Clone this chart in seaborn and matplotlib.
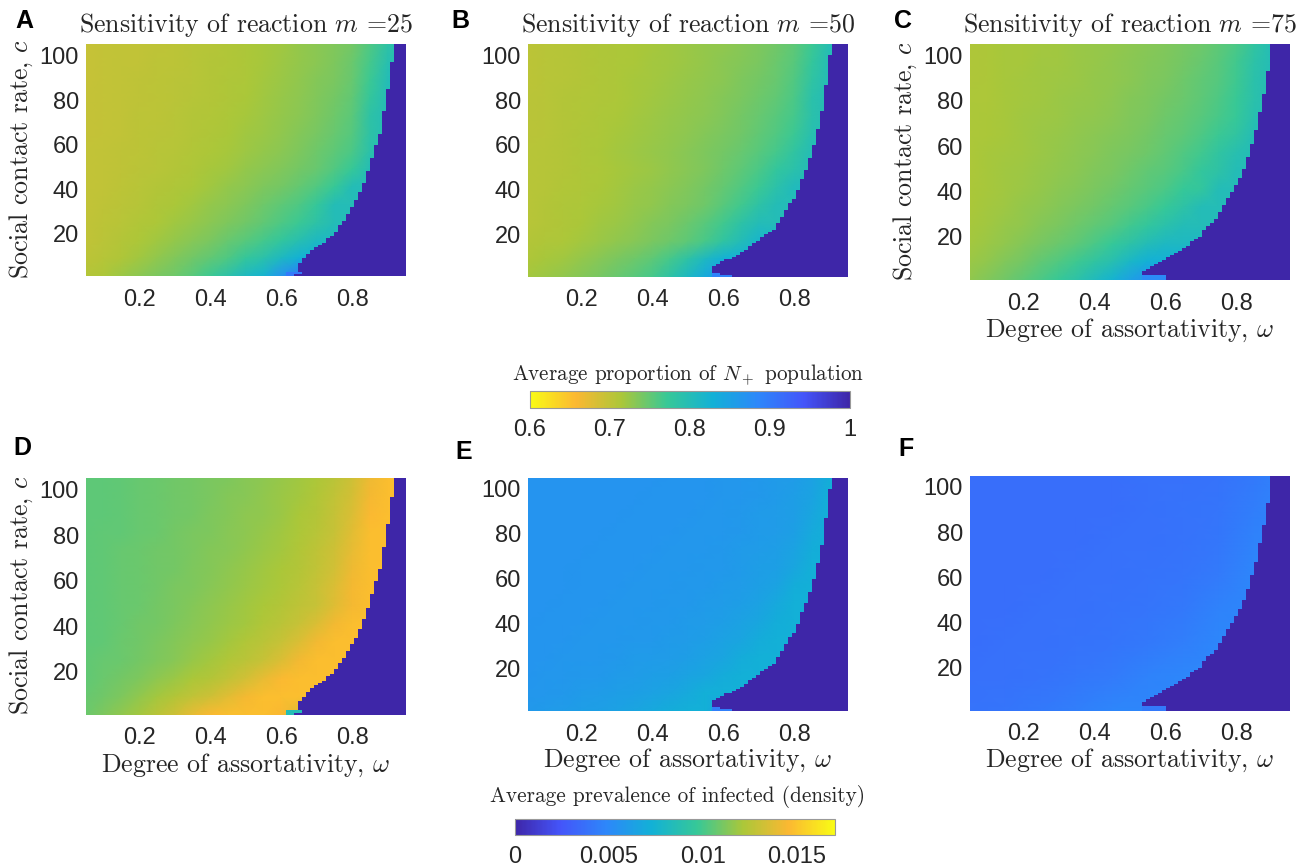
import numpy as np
import pandas as pd
import matplotlib
matplotlib.use("Agg")
import matplotlib.pyplot as plt
from matplotlib.colors import LinearSegmentedColormap
import seaborn as sns

W, H = 1311, 867

# values, rows are c = 105, 97, ... 1, columns are omega = .05, .10, ... .95
prop_a = [
    [.695, .697, .699, .700, .701, .703, .705, .707, .710, .713, .716, .720, .725, .730, .735, .742, .760, .785, .800],
    [.695, .697, .699, .700, .702, .703, .705, .708, .710, .713, .717, .721, .726, .731, .737, .746, .765, .795, .800],
    [.695, .697, .699, .701, .702, .704, .706, .708, .711, .714, .718, .722, .727, .733, .739, .748, .770, .800, .800],
    [.696, .698, .700, .701, .703, .704, .707, .709, .712, .715, .719, .724, .729, .735, .741, .751, .775, .800, .800],
    [.696, .698, .700, .702, .703, .705, .708, .710, .713, .717, .721, .726, .731, .737, .744, .754, .785, .800, .800],
    [.696, .698, .700, .702, .704, .706, .709, .711, .715, .719, .723, .728, .733, .740, .748, .757, .785, .800, .800],
    [.697, .699, .701, .703, .705, .707, .710, .713, .717, .721, .726, .731, .737, .744, .752, .762, .790, .800, .800],
    [.697, .699, .701, .704, .706, .709, .712, .716, .720, .725, .730, .735, .741, .748, .758, .772, .800, .800, .800],
    [.698, .700, .703, .705, .708, .711, .715, .720, .725, .730, .736, .742, .749, .758, .772, .800, .800, .800, .800],
    [.698, .701, .704, .707, .711, .715, .720, .725, .731, .737, .744, .752, .760, .774, .800, .800, .800, .800, .800],
    [.699, .702, .706, .710, .714, .719, .724, .730, .736, .743, .751, .760, .770, .785, .800, .800, .800, .800, .800],
    [.700, .704, .708, .713, .719, .725, .732, .739, .747, .755, .765, .778, .795, .810, .810, .810, .810, .810, .810],
    [.702, .707, .712, .720, .727, .735, .743, .750, .760, .775, .790, .810, .830, .830, .830, .830, .830, .830, .830],
    [.708, .714, .722, .730, .738, .745, .755, .770, .788, .810, .825, .870, .900, .900, .900, .900, .900, .900, .900],
]
prop_b = [
    [.703, .705, .707, .709, .711, .713, .715, .717, .720, .722, .725, .728, .732, .737, .743, .752, .770, .798, .800],
    [.703, .705, .707, .709, .711, .713, .715, .718, .720, .723, .726, .730, .734, .739, .746, .756, .776, .800, .800],
    [.703, .705, .707, .709, .711, .714, .716, .718, .721, .724, .727, .731, .736, .741, .748, .758, .782, .800, .800],
    [.704, .706, .708, .710, .712, .714, .717, .719, .722, .725, .729, .733, .738, .744, .751, .762, .790, .800, .800],
    [.704, .706, .708, .710, .713, .715, .718, .721, .724, .727, .731, .735, .741, .747, .755, .765, .790, .800, .800],
    [.704, .706, .709, .711, .714, .716, .719, .722, .725, .729, .733, .738, .743, .750, .759, .770, .795, .800, .800],
    [.705, .707, .709, .712, .715, .718, .721, .724, .728, .732, .737, .742, .748, .755, .765, .780, .800, .800, .800],
    [.705, .707, .709, .711, .714, .717, .720, .723, .727, .732, .737, .744, .752, .762, .778, .790, .800, .800, .800],
    [.705, .707, .710, .712, .715, .718, .722, .725, .730, .735, .741, .749, .758, .770, .788, .805, .805, .805, .805],
    [.705, .708, .711, .713, .717, .720, .724, .728, .733, .738, .745, .755, .766, .785, .800, .800, .800, .800, .800],
    [.706, .709, .712, .715, .719, .723, .728, .733, .739, .746, .755, .767, .785, .800, .800, .800, .800, .800, .800],
    [.708, .711, .714, .718, .722, .727, .732, .738, .745, .753, .764, .780, .800, .820, .820, .820, .820, .820, .820],
    [.712, .716, .720, .725, .732, .738, .745, .752, .765, .785, .810, .830, .830, .830, .830, .830, .830, .830, .830],
    [.718, .722, .728, .733, .740, .747, .755, .765, .785, .812, .840, .870, .870, .870, .870, .870, .870, .870, .870],
]
prop_c = [
    [.712, .714, .716, .717, .718, .720, .722, .724, .726, .729, .732, .735, .740, .745, .752, .762, .780, .800, .800],
    [.712, .714, .716, .717, .719, .720, .722, .724, .727, .730, .733, .737, .742, .748, .755, .766, .787, .800, .800],
    [.712, .714, .716, .718, .719, .721, .723, .725, .728, .731, .735, .739, .744, .750, .757, .768, .790, .800, .800],
    [.713, .714, .716, .718, .720, .722, .724, .726, .729, .733, .736, .741, .746, .752, .760, .771, .790, .800, .800],
    [.713, .715, .717, .719, .721, .723, .725, .728, .731, .735, .739, .744, .749, .756, .764, .772, .795, .800, .800],
    [.713, .715, .717, .720, .722, .724, .727, .730, .733, .737, .742, .747, .753, .760, .770, .780, .800, .800, .800],
    [.714, .716, .718, .720, .723, .726, .729, .732, .736, .740, .745, .751, .758, .767, .780, .795, .800, .800, .800],
    [.714, .716, .719, .721, .724, .727, .731, .735, .739, .744, .750, .756, .764, .775, .785, .800, .800, .800, .800],
    [.715, .717, .720, .723, .726, .730, .734, .738, .743, .749, .755, .762, .772, .778, .800, .800, .800, .800, .800],
    [.715, .718, .721, .725, .729, .733, .738, .743, .749, .756, .763, .772, .785, .800, .800, .800, .800, .800, .800],
    [.716, .720, .724, .728, .733, .738, .744, .750, .757, .766, .777, .790, .800, .800, .800, .800, .800, .800, .800],
    [.718, .723, .728, .734, .740, .746, .753, .762, .772, .785, .800, .810, .810, .810, .810, .810, .810, .810, .810],
    [.722, .728, .735, .742, .750, .758, .768, .780, .795, .815, .830, .830, .830, .830, .830, .830, .830, .830, .830],
    [.728, .735, .743, .752, .762, .773, .787, .805, .825, .850, .870, .870, .870, .870, .870, .870, .870, .870, .870],
]
prev_d = [
    [.0105, .0105, .0106, .0107, .0108, .0109, .0110, .0111, .0112, .0114, .0115, .0117, .0119, .0122, .0126, .0132, .0142, .0148, .0148],
    [.0105, .0105, .0106, .0107, .0108, .0109, .0110, .0111, .0113, .0114, .0116, .0118, .0120, .0123, .0128, .0134, .0144, .0148, .0148],
    [.0105, .0105, .0106, .0107, .0108, .0109, .0110, .0112, .0113, .0115, .0116, .0118, .0121, .0124, .0129, .0136, .0146, .0148, .0148],
    [.0105, .0106, .0106, .0107, .0108, .0110, .0111, .0112, .0114, .0115, .0117, .0119, .0122, .0125, .0130, .0138, .0148, .0148, .0148],
    [.0105, .0106, .0107, .0108, .0109, .0110, .0111, .0113, .0114, .0116, .0118, .0120, .0123, .0127, .0132, .0140, .0148, .0148, .0148],
    [.0105, .0106, .0107, .0108, .0109, .0110, .0112, .0113, .0115, .0117, .0119, .0121, .0124, .0128, .0133, .0142, .0148, .0148, .0148],
    [.0105, .0106, .0107, .0108, .0109, .0111, .0112, .0114, .0116, .0118, .0120, .0122, .0125, .0130, .0136, .0144, .0148, .0148, .0148],
    [.0105, .0106, .0107, .0108, .0110, .0111, .0113, .0115, .0117, .0119, .0121, .0124, .0127, .0130, .0137, .0144, .0148, .0148, .0148],
    [.0105, .0106, .0107, .0109, .0110, .0112, .0114, .0116, .0118, .0120, .0123, .0126, .0130, .0136, .0143, .0148, .0148, .0148, .0148],
    [.0105, .0106, .0108, .0109, .0111, .0113, .0115, .0117, .0120, .0123, .0126, .0130, .0136, .0143, .0148, .0148, .0148, .0148, .0148],
    [.0106, .0107, .0108, .0110, .0112, .0114, .0117, .0120, .0123, .0126, .0130, .0136, .0143, .0148, .0148, .0148, .0148, .0148, .0148],
    [.0106, .0108, .0110, .0112, .0115, .0118, .0121, .0124, .0128, .0133, .0140, .0146, .0148, .0148, .0148, .0148, .0148, .0148, .0148],
    [.0107, .0109, .0112, .0116, .0120, .0124, .0128, .0132, .0138, .0144, .0148, .0148, .0148, .0148, .0148, .0148, .0148, .0148, .0148],
    [.0108, .0112, .0116, .0120, .0126, .0132, .0140, .0146, .0148, .0148, .0148, .0145, .0135, .0135, .0135, .0135, .0135, .0135, .0135],
]
prev_e = [
    [.0056, .0056, .0056, .0056, .0056, .0056, .0056, .0056, .0057, .0057, .0057, .0058, .0058, .0059, .0060, .0061, .0064, .0071, .0072],
    [.0056, .0056, .0056, .0056, .0056, .0056, .0056, .0057, .0057, .0057, .0057, .0058, .0058, .0059, .0060, .0062, .0065, .0072, .0072],
    [.0056, .0056, .0056, .0056, .0056, .0056, .0057, .0057, .0057, .0057, .0058, .0058, .0059, .0060, .0061, .0062, .0067, .0072, .0072],
    [.0056, .0056, .0056, .0056, .0056, .0057, .0057, .0057, .0057, .0058, .0058, .0058, .0059, .0060, .0061, .0063, .0069, .0072, .0072],
    [.0056, .0056, .0056, .0056, .0057, .0057, .0057, .0057, .0058, .0058, .0058, .0059, .0060, .0061, .0062, .0065, .0071, .0072, .0072],
    [.0056, .0056, .0056, .0057, .0057, .0057, .0057, .0058, .0058, .0058, .0059, .0059, .0060, .0062, .0063, .0067, .0072, .0072, .0072],
    [.0056, .0056, .0056, .0057, .0057, .0057, .0058, .0058, .0058, .0059, .0059, .0060, .0061, .0063, .0065, .0071, .0072, .0072, .0072],
    [.0056, .0056, .0057, .0057, .0057, .0058, .0058, .0058, .0059, .0059, .0060, .0061, .0062, .0064, .0068, .0072, .0072, .0072, .0072],
    [.0056, .0057, .0057, .0057, .0058, .0058, .0058, .0059, .0059, .0060, .0061, .0062, .0064, .0067, .0071, .0072, .0072, .0072, .0072],
    [.0057, .0057, .0057, .0058, .0058, .0058, .0059, .0059, .0060, .0061, .0062, .0064, .0066, .0070, .0072, .0072, .0072, .0072, .0072],
    [.0057, .0057, .0058, .0058, .0058, .0059, .0060, .0060, .0061, .0062, .0064, .0066, .0070, .0072, .0072, .0072, .0072, .0072, .0072],
    [.0057, .0058, .0058, .0059, .0059, .0060, .0061, .0062, .0063, .0065, .0067, .0070, .0072, .0072, .0072, .0072, .0072, .0072, .0072],
    [.0058, .0058, .0059, .0060, .0061, .0062, .0063, .0064, .0066, .0069, .0072, .0072, .0072, .0072, .0072, .0072, .0072, .0072, .0072],
    [.0059, .0060, .0061, .0062, .0063, .0064, .0066, .0068, .0071, .0072, .0072, .0060, .0060, .0060, .0060, .0060, .0060, .0060, .0060],
]
# panel F is almost flat, rows are c = 105, 90, 75, 60, 46, 31, 16, 1, columns omega = .05, .15, ... .95
prev_f = [
    [.0037, .0037, .0037, .0037, .0037, .0038, .0038, .0039, .0042, .0048],
    [.0037, .0037, .0037, .0037, .0037, .0038, .0039, .0040, .0044, .0049],
    [.0037, .0037, .0037, .0037, .0038, .0038, .0039, .0041, .0047, .0049],
    [.0037, .0037, .0037, .0038, .0038, .0039, .0040, .0043, .0049, .0049],
    [.0037, .0037, .0038, .0038, .0039, .0040, .0042, .0047, .0049, .0049],
    [.0037, .0038, .0038, .0039, .0040, .0042, .0045, .0049, .0049, .0049],
    [.0038, .0038, .0039, .0041, .0043, .0047, .0049, .0049, .0049, .0049],
    [.0039, .0040, .0042, .0045, .0048, .0049, .0049, .0049, .0049, .0049],
]

# staircase of the saturated region: highest c still saturated in each fine column
edge_m25 = [2, 7, 9, 11, 13, 14, 15, 16, 18, 19, 21, 24, 26, 29, 32, 35, 39, 43, 48, 54, 60, 65, 75, 85, 97]
edge_m50 = [6, 6.5, 8, 8.6, 9.2, 10.4, 11, 12, 13.4, 14.5, 15.8, 17.3, 18.8, 19.7, 21, 22, 25, 28, 31, 34, 36, 40,
            45, 49, 54, 60, 67, 75, 87, 100]
edge_m75 = [4.5, 6, 7, 8, 9, 10, 11, 11.5, 13, 14, 15, 16, 18, 19, 20, 23, 24.5, 26, 28, 31, 33.5, 36.5, 39.5, 43,
            46, 50, 55, 60.5, 67, 74.5, 82.6, 93.4]
edge_start = {25: 52, 50: 46, 75: 43}
edges = {25: edge_m25, 50: edge_m50, 75: edge_m75}
# bottom rows where a lighter notch cuts under the staircase: (row from bottom, first col, last col)
gap_rows = {25: [0, 1], 50: [0, 1], 75: [0, 1]}
gap_from = {25: [50, 50], 50: [46, 46], 75: [43, 43]}
gap_to = {25: [51, 53], 50: [50, 47], 75: [48, 48]}

omega_ticks = [0.2, 0.4, 0.6, 0.8]
c_ticks = [20, 40, 60, 80, 100]
prop_ticks = [0.6, 0.7, 0.8, 0.9, 1]
prop_tick_labels = ["0.6", "0.7", "0.8", "0.9", "1"]
prev_ticks = [0, 0.005, 0.01, 0.015]
prev_tick_labels = ["0", "0.005", "0.01", "0.015"]
parula_colors = ["#3e26a8", "#4455fa", "#2d87fa", "#12b1d6", "#37c897", "#abc739", "#fbb832", "#f9fb15"]

sns.set_theme(style="white")
plt.rcParams["font.family"] = ["Liberation Sans", "DejaVu Sans"]
plt.rcParams["mathtext.fontset"] = "cm"
plt.rcParams["axes.unicode_minus"] = False
TXT = "#262626"

parula = LinearSegmentedColormap.from_list("parula", parula_colors)
parula_r = parula.reversed()

fig = plt.figure(figsize=(W / 100, H / 100), dpi=100, facecolor="white")


def box(x0, y0, x1, y1):
    return [x0 / W, 1 - y1 / H, (x1 - x0) / W, (y1 - y0) / H]


def label(x, y, s, **kw):
    kw.setdefault("color", TXT)
    fig.text(x / W, 1 - y / H, s, **kw)


def fine_grid(m, dark_val, gap_val):
    # 104 rows x 80 columns, NaN where the smooth field shows through
    grid = np.full((104, 80), np.nan)
    start = edge_start[m]
    for col in range(start, 80):
        k = col - start
        top = edges[m][k] if k < len(edges[m]) else 200
        for r in range(104):
            if 104.5 - r <= top:
                grid[r, col] = dark_val
    for row, a, b in zip(gap_rows[m], gap_from[m], gap_to[m]):
        grid[103 - row, a : b + 1] = gap_val
    return grid


def panel(pos, table, m, cmap, vmin, vmax, dark_val, gap_val):
    base = fig.add_axes(box(*pos))
    values = np.array(table)
    sns.heatmap(pd.DataFrame(values), ax=base, cmap=cmap, vmin=vmin, vmax=vmax, cbar=False,
                xticklabels=False, yticklabels=False, shading="gouraud")
    base.set_xlim(0, values.shape[1] - 1)
    base.set_ylim(values.shape[0] - 1, 0)
    base.set_xlabel("")
    base.set_ylabel("")

    ax = fig.add_axes(box(*pos), facecolor="none")
    sns.heatmap(pd.DataFrame(fine_grid(m, dark_val, gap_val)), ax=ax, cmap=cmap, vmin=vmin, vmax=vmax, cbar=False,
                xticklabels=False, yticklabels=False)
    ax.set_xlabel("")
    ax.set_ylabel("")
    ax.set_xticks([(w - 0.05) / 0.01125 for w in omega_ticks])
    ax.set_xticklabels([f"{w:.1f}" for w in omega_ticks], rotation=0)
    ax.set_yticks([105 - c for c in c_ticks])
    ax.set_yticklabels([str(c) for c in c_ticks], rotation=0)
    ax.tick_params(axis="x", length=0, pad=9, labelsize=17, labelcolor=TXT)
    ax.tick_params(axis="y", length=0, pad=5, labelsize=17, labelcolor=TXT)


panel((85.7, 44.3, 405.7, 276.3), prop_a, 25, parula_r, 0.6, 1, 1, 0.90)
panel((527.7, 44.3, 847.7, 277), prop_b, 50, parula_r, 0.6, 1, 1, 0.89)
panel((969.7, 44, 1290, 280), prop_c, 75, parula_r, 0.6, 1, 1, 0.88)
panel((85.7, 478.3, 405.7, 715), prev_d, 25, parula, 0, 0.017, 0, 0.0085)
panel((527.7, 477.7, 847.7, 711.3), prev_e, 50, parula, 0, 0.017, 0, 0.0045)
panel((969.7, 475.7, 1290, 710.7), prev_f, 75, parula, 0, 0.017, 0, 0.0042)

# colour bars
for pos, cmap, vmin, vmax, ticks, tick_labels in [
    ((530, 391, 849.7, 408.3), parula_r, 0.6, 1, prop_ticks, prop_tick_labels),
    ((514.7, 818.7, 834.7, 835.3), parula, 0, 0.017, prev_ticks, prev_tick_labels),
]:
    cax = fig.add_axes(box(*pos))
    sm = plt.cm.ScalarMappable(cmap=cmap, norm=plt.Normalize(vmin, vmax))
    cb = fig.colorbar(sm, cax=cax, orientation="horizontal", ticks=ticks)
    cb.ax.set_xticklabels(tick_labels)
    cb.ax.tick_params(direction="in", length=2.5, width=0.6, color="#555555", pad=7.5, labelsize=17, labelcolor=TXT)
    cb.outline.set_edgecolor("#999999")
    cb.outline.set_linewidth(0.8)

tex = dict(family="cmr10", ha="center", va="baseline")
for x, m in [(245.5, 25), (688, 50), (1130, 75)]:
    label(x, 32, f"Sensitivity of reaction $m$ =${m}$", fontsize=18.6, **tex)

for x, y in [(21, 159), (21, 595), (905, 161)]:
    label(x, y, r"Social contact rate, $c$", fontsize=18.6, family="cmr10", ha="center", va="center", rotation=90)

for x, y in [(1130, 337), (246, 772), (688, 767), (1130, 767)]:
    label(x, y, r"Degree of assortativity, $\omega$", fontsize=18.6, **tex)

label(688, 381, r"Average proportion of $N_+$ population", fontsize=15.2, **tex)
label(677.5, 802, "Average prevalence of infected (density)", fontsize=15.3, **tex)

for x, y, s in [(15, 28, "A"), (451, 28, "B"), (894, 28, "C"), (13, 455, "D"), (455, 459, "E"), (898, 456, "F")]:
    label(x, y, s, fontsize=18, fontweight="bold", color="black", ha="left", va="baseline")

fig.savefig("out.png", dpi=100)
